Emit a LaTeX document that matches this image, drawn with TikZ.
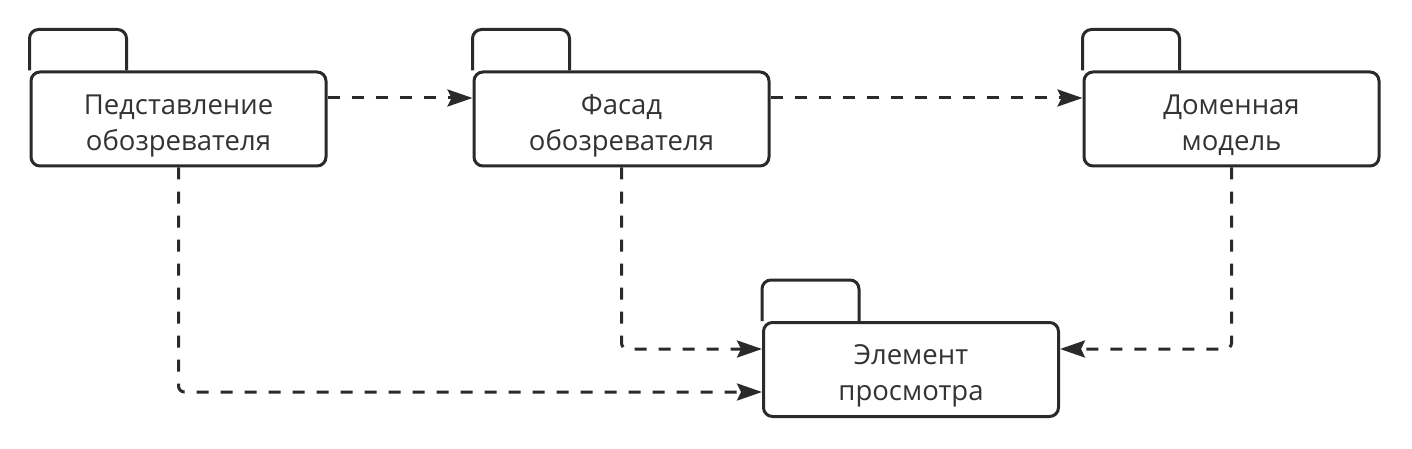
\documentclass[tikz,border=0pt]{standalone}
\usepackage{fontspec}
\setmainfont{Open Sans}
\usetikzlibrary{arrows.meta}
\definecolor{ln}{HTML}{2A2A2A}
\definecolor{tx}{HTML}{333333}
\newcommand\pkgtxt[2]{\raisebox{-6pt}[\height][\depth]{\begin{tabular}{@{}c@{}}#1\\#2\end{tabular}}}
\begin{document}
\begin{tikzpicture}[x=1pt,y=-1pt,
  pkg/.style={draw=ln, line width=3pt, rounded corners=9pt, fill=white, minimum width=295pt, minimum height=94pt, inner sep=0pt, text=tx, font=\fontsize{27.5}{36}\selectfont},
  tabline/.style={draw=ln, line width=3pt, rounded corners=9pt},
  dep/.style={draw=ln, line width=3pt, dash pattern=on 12pt off 12pt, rounded corners=6pt, -{Stealth[length=25pt,width=17pt,inset=4pt]}}]
\useasboundingbox (0,0) rectangle (1412,449);
\fill[white] (0,0) rectangle (1412,449);
\node[pkg] (p1) at (178.5,119) {\pkgtxt{Педставление}{обозревателя}};
\node[pkg] (p2) at (621.5,119) {\pkgtxt{Фасад}{обозревателя}};
\node[pkg] (p3) at (1231.5,119) {\pkgtxt{Доменная}{модель}};
\node[pkg] (p4) at (911,369.5) {\pkgtxt{Элемент}{просмотра}};
\foreach \n in {p1,p2,p3,p4}{
  \draw[tabline] (\n.north west) -- ++(0,-41) -- ++(97,0) -- ++(0,41);
}
\coordinate (e1) at ([yshift=21pt]p1.east);
\coordinate (w2) at ([yshift=21pt]p2.west);
\coordinate (e2) at ([yshift=21pt]p2.east);
\coordinate (w3) at ([yshift=21pt]p3.west);
\draw[dep] (e1) -- (w2);
\draw[dep] (e2) -- (w3);
\coordinate (a1) at ([yshift=20.5pt]p4.west);
\coordinate (a2) at ([yshift=-22.5pt]p4.west);
\coordinate (a3) at ([yshift=20.5pt]p4.east);
\draw[dep] (p2.south) |- (a1);
\draw[dep] (p1.south) |- (a2);
\draw[dep] (p3.south) |- (a3);
\end{tikzpicture}
\end{document}
